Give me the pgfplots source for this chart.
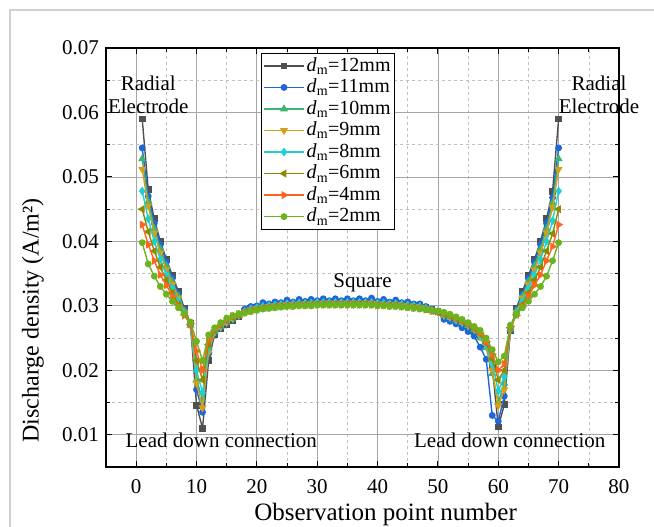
\documentclass[border=0pt]{standalone}
\usepackage{fontspec}
\setmainfont{Liberation Serif}
\usepackage{pgfplots}
\pgfplotsset{compat=1.18}
\usepackage{pgfplotstable}

\definecolor{c12}{HTML}{505050}
\definecolor{c11}{HTML}{1F66DD}
\definecolor{c10}{HTML}{3CB371}
\definecolor{c9}{HTML}{D4A017}
\definecolor{c8}{HTML}{1ED0D4}
\definecolor{c6}{HTML}{8B8B00}
\definecolor{c4}{HTML}{FF6420}
\definecolor{c2}{HTML}{6CB41E}

\pgfplotstableread{
x s12 s11 s10 s9 s8 s6 s4 s2
1 0.0590 0.0545 0.0528 0.0512 0.0478 0.0450 0.0426 0.0398
2 0.0480 0.0470 0.0462 0.0455 0.0435 0.0415 0.0395 0.0365
3 0.0435 0.0428 0.0420 0.0413 0.0400 0.0385 0.0370 0.0346
4 0.0400 0.0395 0.0388 0.0382 0.0372 0.0360 0.0348 0.0330
5 0.0372 0.0368 0.0362 0.0356 0.0348 0.0340 0.0332 0.0318
6 0.0347 0.0343 0.0338 0.0333 0.0327 0.0320 0.0315 0.0307
7 0.0322 0.0318 0.0315 0.0312 0.0307 0.0302 0.0299 0.0297
8 0.0296 0.0294 0.0292 0.0290 0.0288 0.0286 0.0285 0.0287
9 0.0272 0.0271 0.0270 0.0270 0.0270 0.0271 0.0272 0.0275
10 0.0146 0.0170 0.0185 0.0180 0.0200 0.0215 0.0230 0.0245
11 0.0110 0.0135 0.0155 0.0142 0.0165 0.0185 0.0200 0.0215
12 0.0215 0.0225 0.0230 0.0228 0.0235 0.0240 0.0248 0.0255
13 0.0256 0.0258 0.0260 0.0259 0.0261 0.0262 0.0264 0.0266
14 0.0264 0.0266 0.0268 0.0267 0.0269 0.0270 0.0272 0.0274
15 0.0271 0.0273 0.0275 0.0274 0.0276 0.0277 0.0279 0.0281
16 0.0277 0.0279 0.0281 0.0280 0.0282 0.0282 0.0284 0.0285
17 0.0283 0.0285 0.0285 0.0285 0.0286 0.0286 0.0287 0.0288
18 0.0292 0.0295 0.0291 0.0290 0.0291 0.0290 0.0289 0.0289
19 0.0296 0.0299 0.0295 0.0294 0.0295 0.0293 0.0292 0.0291
20 0.0298 0.0300 0.0297 0.0296 0.0297 0.0295 0.0294 0.0293
21 0.0300 0.0305 0.0299 0.0298 0.0299 0.0297 0.0296 0.0295
22 0.0301 0.0303 0.0300 0.0299 0.0300 0.0298 0.0297 0.0296
23 0.0302 0.0306 0.0301 0.0300 0.0301 0.0299 0.0298 0.0297
24 0.0303 0.0305 0.0302 0.0301 0.0302 0.0300 0.0299 0.0298
25 0.0304 0.0309 0.0303 0.0302 0.0303 0.0301 0.0300 0.0299
26 0.0304 0.0306 0.0303 0.0302 0.0303 0.0301 0.0300 0.0299
27 0.0305 0.0310 0.0304 0.0303 0.0304 0.0302 0.0301 0.0300
28 0.0305 0.0307 0.0304 0.0303 0.0304 0.0302 0.0301 0.0300
29 0.0305 0.0310 0.0304 0.0303 0.0304 0.0302 0.0301 0.0300
30 0.0306 0.0308 0.0305 0.0304 0.0305 0.0303 0.0302 0.0301
31 0.0306 0.0311 0.0305 0.0304 0.0305 0.0303 0.0302 0.0301
32 0.0306 0.0308 0.0305 0.0304 0.0305 0.0303 0.0302 0.0301
33 0.0306 0.0311 0.0305 0.0304 0.0305 0.0303 0.0302 0.0301
34 0.0306 0.0308 0.0305 0.0304 0.0305 0.0303 0.0302 0.0301
35 0.0306 0.0311 0.0305 0.0304 0.0305 0.0303 0.0302 0.0301
36 0.0306 0.0308 0.0305 0.0304 0.0305 0.0303 0.0302 0.0301
37 0.0306 0.0311 0.0305 0.0304 0.0305 0.0303 0.0302 0.0301
38 0.0306 0.0308 0.0305 0.0304 0.0305 0.0303 0.0302 0.0301
39 0.0306 0.0312 0.0305 0.0304 0.0305 0.0303 0.0302 0.0301
40 0.0305 0.0307 0.0304 0.0303 0.0304 0.0302 0.0301 0.0300
41 0.0305 0.0310 0.0304 0.0303 0.0304 0.0302 0.0301 0.0300
42 0.0304 0.0306 0.0303 0.0302 0.0303 0.0301 0.0300 0.0299
43 0.0304 0.0309 0.0303 0.0302 0.0303 0.0301 0.0300 0.0299
44 0.0303 0.0305 0.0302 0.0301 0.0302 0.0300 0.0299 0.0298
45 0.0302 0.0306 0.0301 0.0300 0.0301 0.0299 0.0298 0.0297
46 0.0301 0.0303 0.0300 0.0299 0.0300 0.0298 0.0297 0.0296
47 0.0300 0.0303 0.0299 0.0298 0.0299 0.0297 0.0296 0.0295
48 0.0297 0.0299 0.0296 0.0296 0.0296 0.0295 0.0294 0.0294
49 0.0294 0.0295 0.0293 0.0293 0.0293 0.0292 0.0292 0.0293
50 0.0291 0.0291 0.0291 0.0291 0.0291 0.0290 0.0291 0.0292
51 0.0284 0.0279 0.0285 0.0285 0.0286 0.0287 0.0288 0.0290
52 0.0281 0.0276 0.0282 0.0282 0.0283 0.0284 0.0285 0.0287
53 0.0277 0.0272 0.0278 0.0278 0.0279 0.0280 0.0281 0.0283
54 0.0273 0.0266 0.0274 0.0274 0.0275 0.0276 0.0277 0.0279
55 0.0268 0.0260 0.0269 0.0269 0.0270 0.0271 0.0272 0.0274
56 0.0262 0.0253 0.0263 0.0263 0.0264 0.0265 0.0266 0.0268
57 0.0252 0.0236 0.0250 0.0252 0.0254 0.0256 0.0258 0.0262
58 0.0238 0.0217 0.0235 0.0238 0.0240 0.0242 0.0245 0.0250
59 0.0205 0.0130 0.0195 0.0200 0.0210 0.0218 0.0225 0.0232
60 0.0112 0.0121 0.0150 0.0145 0.0168 0.0185 0.0200 0.0213
61 0.0147 0.0160 0.0180 0.0170 0.0190 0.0200 0.0210 0.0222
62 0.0262 0.0262 0.0264 0.0263 0.0265 0.0266 0.0268 0.0270
63 0.0296 0.0294 0.0292 0.0290 0.0288 0.0286 0.0285 0.0287
64 0.0322 0.0318 0.0315 0.0312 0.0307 0.0302 0.0299 0.0297
65 0.0347 0.0343 0.0338 0.0333 0.0327 0.0320 0.0315 0.0307
66 0.0372 0.0368 0.0362 0.0356 0.0348 0.0340 0.0332 0.0318
67 0.0400 0.0395 0.0388 0.0382 0.0372 0.0360 0.0348 0.0330
68 0.0435 0.0428 0.0420 0.0413 0.0400 0.0385 0.0370 0.0346
69 0.0478 0.0468 0.0460 0.0453 0.0432 0.0412 0.0392 0.0370
70 0.0590 0.0545 0.0528 0.0512 0.0478 0.0450 0.0426 0.0398
}\data

\begin{document}
\fontsize{21}{24}\selectfont
\begin{tikzpicture}
\useasboundingbox (-106pt,-60pt) rectangle (548pt,467pt);
\draw[black!18, line width=1.2pt] (-96pt,-60pt) -- (-96pt,457pt) -- (548pt,457pt);
\begin{axis}[
  scale only axis, width=513pt, height=419pt,
  at={(0pt,0pt)}, anchor=south west,
  clip mode=individual,
  xmin=-5, xmax=80, ymin=0.005, ymax=0.07,
  xtick={0,10,20,30,40,50,60,70,80},
  minor xtick={5,15,25,35,45,55,65,75},
  ytick={0.01,0.02,0.03,0.04,0.05,0.06,0.07},
  minor ytick={0.015,0.025,0.035,0.045,0.055,0.065},
  scaled y ticks=false,
  yticklabel style={/pgf/number format/.cd, fixed, fixed zerofill, precision=2},
  /pgf/number format/assume math mode=true,
  ticklabel style={font=\fontsize{21}{24}\selectfont},
  xticklabel style={yshift=-5pt},
  grid=both,
  major grid style={black!35, line width=0.8pt},
  minor grid style={black!25, dashed, line width=0.6pt},
  tick align=inside,
  major tick length=6pt, minor tick length=4pt,
  every tick/.style={black, line width=1pt},
  axis line style={black, line width=1.5pt},
  xlabel={Observation point number},
  ylabel={Discharge density (A/m²)},
  xlabel style={font=\fontsize{25}{28}\selectfont, at={(ticklabel cs:0.545)}, yshift=4pt},
  ylabel style={font=\fontsize{24}{27}\selectfont, at={(ticklabel cs:0.35)}, yshift=4pt},
  legend style={at={(0.302,0.988)}, anchor=north west, draw=black, line width=0.8pt,
    font=\fontsize{20}{21}\selectfont, row sep=0.5pt, inner sep=2pt, fill=white},
  legend cell align=left,
  legend image code/.code={\draw[mark repeat=2,mark phase=2] plot coordinates {(0pt,0pt)(20pt,0pt)(40pt,0pt)};},
  every axis plot/.append style={line width=1.4pt, mark size=2.7pt},
]
\addplot[color=c12, mark=square*] table[x=x,y=s12]{\data};
\addlegendentry{\textit{d}\textsubscript{m}=12mm}
\addplot[color=c11, mark=*] table[x=x,y=s11]{\data};
\addlegendentry{\textit{d}\textsubscript{m}=11mm}
\addplot[color=c10, mark=triangle*, mark size=3.3pt] table[x=x,y=s10]{\data};
\addlegendentry{\textit{d}\textsubscript{m}=10mm}
\addplot[color=c9, mark=triangle*, mark size=3.3pt, mark options={rotate=180}] table[x=x,y=s9]{\data};
\addlegendentry{\textit{d}\textsubscript{m}=9mm}
\addplot[color=c8, mark=diamond*, mark size=3.3pt] table[x=x,y=s8]{\data};
\addlegendentry{\textit{d}\textsubscript{m}=8mm}
\addplot[color=c6, mark=triangle*, mark size=3.3pt, mark options={rotate=90}] table[x=x,y=s6]{\data};
\addlegendentry{\textit{d}\textsubscript{m}=6mm}
\addplot[color=c4, mark=triangle*, mark size=3.3pt, mark options={rotate=-90}] table[x=x,y=s4]{\data};
\addlegendentry{\textit{d}\textsubscript{m}=4mm}
\addplot[color=c2, mark=*] table[x=x,y=s2]{\data};
\addlegendentry{\textit{d}\textsubscript{m}=2mm}

\node[align=center, font=\fontsize{21}{23}\selectfont] at (axis cs:2.0,0.0628) {Radial\\Electrode};
\node[align=center, font=\fontsize{21}{23}\selectfont] at (axis cs:76.7,0.0628) {Radial\\Electrode};
\node[font=\fontsize{21}{24}\selectfont] at (axis cs:37.5,0.0336) {Square};
\node[font=\fontsize{21}{24}\selectfont] at (axis cs:14.1,0.0092) {Lead down connection};
\node[font=\fontsize{21}{24}\selectfont] at (axis cs:61.9,0.0092) {Lead down connection};
\end{axis}
\end{tikzpicture}
\end{document}
